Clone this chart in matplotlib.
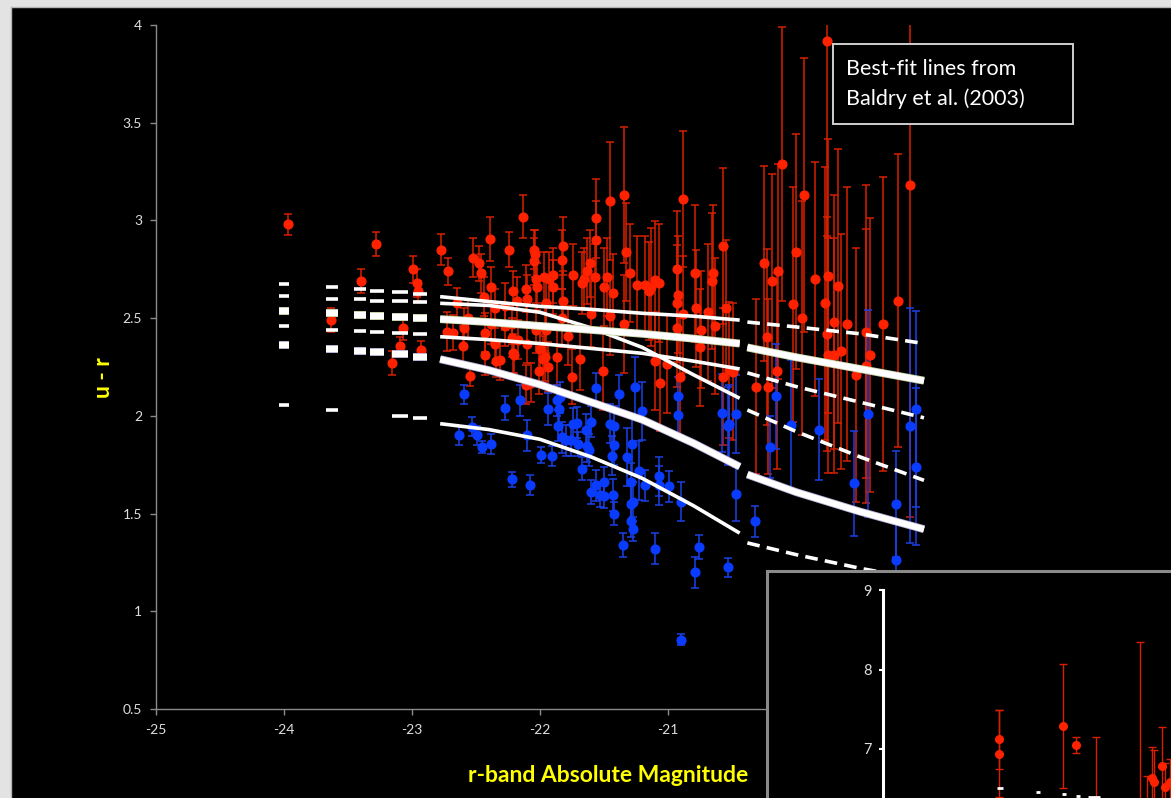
import numpy as np
import matplotlib.pyplot as plt
from matplotlib import patheffects as pe
from matplotlib.patches import Rectangle

# ---------------------------------------------------------------- data
# red (early-type) galaxies: r-band absolute magnitude, u-r colour, 1-sigma error
red_mag = [-23.97, -23.63, -23.40, -23.28, -23.16, -23.09, -23.07, -22.99, -22.96, -22.95,
           -22.93, -22.77, -22.72, -22.73, -22.68, -22.65, -22.60, -22.59, -22.56, -22.55,
           -22.52, -22.48, -22.46, -22.44, -22.43, -22.43, -22.39, -22.38, -22.35, -22.34,
           -22.31, -22.38, -22.35, -22.27, -22.27, -22.24, -22.22, -22.22, -22.21, -22.21,
           -22.20, -22.18, -22.17, -22.13, -22.11, -22.11, -22.10, -22.10, -22.07, -22.05,
           -22.04, -22.05, -22.03, -22.02, -22.03, -22.00, -22.01, -21.97, -21.96, -21.96,
           -21.95, -21.95, -21.93, -21.90, -21.90, -21.98, -21.94, -21.87, -21.82, -21.83,
           -21.82, -21.83, -21.78, -21.75, -21.74, -21.67, -21.66, -21.69, -21.63, -21.61,
           -21.60, -21.57, -21.56, -21.56, -21.51, -21.50, -21.48, -21.45, -21.45, -21.43,
           -21.34, -21.34, -21.33, -21.30, -21.24, -21.18, -21.15, -21.10, -21.07, -21.10,
           -21.06, -21.01, -21.13, -20.93, -20.92, -20.93, -20.93, -20.91, -20.88, -20.88,
           -20.79, -20.78, -20.74, -20.75, -20.69, -20.65, -20.66, -20.63, -20.57, -20.55,
           -20.57, -20.52, -20.49,
           -20.25, -20.23, -20.31, -20.22, -20.19, -20.14, -20.15, -20.11, -20.02, -20.00,
           -19.94, -19.95, -19.85, -19.77, -19.76, -19.76, -19.75, -19.75, -19.70, -19.70,
           -19.67, -19.65, -19.60, -19.53, -19.45, -19.42, -19.45, -19.32, -19.20, -19.11]
red_col = [2.98, 2.49, 2.69, 2.88, 2.27, 2.355, 2.45, 2.75, 2.68, 2.64,
           2.335, 2.85, 2.74, 2.43, 2.425, 2.575, 2.36, 2.45, 2.50, 2.205,
           2.81, 2.78, 2.73, 2.61, 2.425, 2.31, 2.905, 2.66, 2.55, 2.28,
           2.285, 2.47, 2.37, 2.46, 2.56, 2.85, 2.40, 2.47, 2.64, 2.32,
           2.31, 2.59, 2.39, 3.02, 2.65, 2.16, 2.37, 2.60, 2.17, 2.85,
           2.83, 2.79, 2.70, 2.66, 2.44, 2.34, 2.23, 2.71, 2.30, 2.45,
           2.58, 2.44, 2.70, 2.72, 2.66, 2.29, 2.25, 2.30, 2.87, 2.80,
           2.59, 2.50, 2.41, 2.20, 2.72, 2.68, 2.70, 2.29, 2.74, 2.78,
           2.52, 2.71, 3.01, 2.90, 2.23, 2.66, 2.71, 3.10, 2.51, 2.63,
           3.13, 2.47, 2.84, 2.73, 2.67, 2.67, 2.64, 2.695, 2.68, 2.28,
           2.17, 2.265, 2.66, 2.75, 2.62, 2.575, 2.45, 2.20, 3.11, 2.52,
           2.73, 2.55, 2.44, 2.35, 2.53, 2.73, 2.69, 2.46, 2.87, 2.55,
           2.20, 2.235, 2.225,
           2.78, 2.405, 2.15, 2.15, 2.69, 2.74, 2.23, 3.29, 2.57, 2.84,
           3.13, 2.50, 2.70, 2.575, 2.42, 3.92, 2.715, 2.31, 2.48, 2.31,
           2.665, 2.33, 2.47, 2.21, 2.43, 2.31, 2.255, 2.47, 2.59, 3.18]
red_err = [0.055, 0.06, 0.06, 0.06, 0.06, 0.05, 0.06, 0.07, 0.07, 0.05,
           0.05, 0.08, 0.07, 0.10, 0.09, 0.08, 0.10, 0.10, 0.10, 0.05,
           0.10, 0.09, 0.10, 0.10, 0.10, 0.10, 0.115, 0.10, 0.10, 0.08,
           0.10, 0.10, 0.10, 0.10, 0.12, 0.09, 0.10, 0.10, 0.10, 0.10,
           0.09, 0.12, 0.10, 0.11, 0.12, 0.10, 0.10, 0.12, 0.10, 0.10,
           0.12, 0.12, 0.12, 0.12, 0.12, 0.12, 0.12, 0.13, 0.12, 0.12,
           0.13, 0.12, 0.14, 0.14, 0.14, 0.12, 0.13, 0.14, 0.15, 0.15,
           0.15, 0.15, 0.15, 0.14, 0.16, 0.16, 0.16, 0.16, 0.17, 0.17,
           0.17, 0.17, 0.20, 0.20, 0.20, 0.20, 0.20, 0.30, 0.20, 0.20,
           0.35, 0.25, 0.25, 0.25, 0.25, 0.25, 0.25, 0.30, 0.30, 0.25,
           0.25, 0.25, 0.30, 0.30, 0.30, 0.30, 0.30, 0.30, 0.35, 0.30,
           0.35, 0.30, 0.30, 0.30, 0.35, 0.35, 0.35, 0.35, 0.40, 0.35,
           0.35, 0.35, 0.35,
           0.50, 0.45, 0.45, 0.45, 0.55, 0.55, 0.50, 0.70, 0.60, 0.60,
           0.70, 0.60, 0.60, 0.70, 0.60, 1.00, 0.70, 0.60, 0.65, 0.60,
           0.70, 0.60, 0.70, 0.65, 0.75, 0.70, 0.70, 0.75, 0.75, 1.70]

# blue (late-type) galaxies
blue_mag = [-22.59, -22.63, -22.53, -22.49, -22.45, -22.38, -22.27, -22.16, -22.22, -22.08,
            -22.10, -21.99, -21.91, -21.94, -21.87, -21.84, -21.85, -21.86, -21.83, -21.80,
            -21.76, -21.74, -21.71, -21.70, -21.64, -21.60, -21.63, -21.62, -21.67, -21.60,
            -21.56, -21.50, -21.53, -21.50, -21.56, -21.45, -21.42, -21.42, -21.44, -21.43,
            -21.42, -21.38, -21.35, -21.32, -21.28, -21.29, -21.29, -21.27, -21.29, -21.27,
            -21.26, -21.23, -21.20, -21.18, -21.10, -21.07, -21.07, -20.99, -20.92, -20.92,
            -20.90, -20.90, -20.79, -20.76, -20.58, -20.53, -20.52, -20.47, -20.47, -20.53,
            -20.32, -20.16, -20.20, -20.04, -19.82, -19.55, -19.44, -19.22, -19.22, -19.11,
            -19.06, -19.06]
blue_col = [2.11, 1.90, 1.945, 1.90, 1.84, 1.855, 2.04, 2.08, 1.675, 1.645,
            1.90, 1.80, 1.795, 2.035, 2.08, 2.095, 2.035, 1.95, 1.89, 1.875,
            1.875, 1.96, 1.965, 1.855, 1.93, 1.97, 1.845, 1.825, 1.73, 1.61,
            1.645, 1.66, 1.595, 1.59, 2.14, 1.96, 1.95, 1.85, 1.795, 1.595,
            1.50, 2.11, 1.34, 1.79, 1.855, 1.66, 1.55, 1.56, 1.46, 1.42,
            2.15, 1.72, 2.025, 1.645, 1.32, 1.69, 1.645, 1.64, 2.10, 2.005,
            1.56, 0.855, 1.20, 1.33, 2.015, 1.95, 1.96, 2.01, 1.60, 1.225,
            1.46, 2.10, 1.84, 1.955, 1.93, 1.655, 2.01, 1.55, 1.26, 1.95,
            2.035, 1.74]
blue_err = [0.05, 0.05, 0.05, 0.05, 0.03, 0.05, 0.06, 0.08, 0.04, 0.05,
            0.08, 0.04, 0.05, 0.08, 0.08, 0.08, 0.08, 0.08, 0.08, 0.08,
            0.08, 0.08, 0.08, 0.06, 0.08, 0.08, 0.08, 0.08, 0.06, 0.06,
            0.08, 0.08, 0.06, 0.06, 0.08, 0.10, 0.10, 0.10, 0.10, 0.08,
            0.06, 0.10, 0.06, 0.15, 0.15, 0.10, 0.10, 0.10, 0.08, 0.06,
            0.15, 0.15, 0.15, 0.08, 0.08, 0.10, 0.10, 0.08, 0.10, 0.10,
            0.10, 0.03, 0.08, 0.06, 0.20, 0.20, 0.20, 0.20, 0.14, 0.05,
            0.08, 0.27, 0.16, 0.33, 0.26, 0.27, 0.53, 0.27, 0.20, 0.60,
            0.50, 0.40]

# Baldry et al. (2003) colour-magnitude fits, sampled along magnitude.
# NaN entries separate the plotted pieces.
fit_mag_bright = [-24.04, -23.96, np.nan, -23.67, -23.58, np.nan, -23.45, -23.36, np.nan,
                  -23.33, -23.22, np.nan, -23.16, -23.03, np.nan, -22.99, -22.88]
fit_mag_mid = [-22.78, -22.4, -22.0, -21.6, -21.2, -20.8, -20.44]
fit_mag_faint = [-20.38, -20.0, -19.5, -19.0]

fit_bright = {
    'red_hi':   [2.673, 2.673, np.nan, 2.66, 2.66, np.nan, 2.647, 2.647, np.nan, 2.64, 2.64, np.nan, 2.634, 2.634, np.nan, 2.623, 2.623],
    'blue_hi':  [2.613, 2.613, np.nan, 2.60, 2.60, np.nan, 2.596, 2.596, np.nan, 2.59, 2.59, np.nan, 2.588, 2.588, np.nan, 2.583, 2.583],
    'red_mean': [2.536, 2.536, np.nan, 2.525, 2.525, np.nan, 2.516, 2.516, np.nan, 2.51, 2.51, np.nan, 2.506, 2.506, np.nan, 2.499, 2.499],
    'red_lo':   [2.46, 2.46, np.nan, 2.44, 2.44, np.nan, 2.434, 2.434, np.nan, 2.43, 2.43, np.nan, 2.424, 2.424, np.nan, 2.417, 2.417],
    'blue_mean': [2.362, 2.362, np.nan, 2.344, 2.344, np.nan, 2.332, 2.332, np.nan, 2.325, 2.325, np.nan, 2.315, 2.315, np.nan, 2.30, 2.30],
    'blue_lo':  [2.055, 2.055, np.nan, 2.03, 2.03, np.nan, np.nan, np.nan, np.nan, np.nan, np.nan, np.nan, 2.0, 2.0, np.nan, 1.99, 1.99],
}
fit_mid = {
    'red_hi':    [2.61, 2.585, 2.56, 2.545, 2.525, 2.51, 2.49],
    'blue_hi':   [2.576, 2.565, 2.53, 2.45, 2.35, 2.21, 2.09],
    'red_mean':  [2.495, 2.48, 2.46, 2.44, 2.42, 2.395, 2.37],
    'red_lo':    [2.405, 2.39, 2.37, 2.345, 2.32, 2.28, 2.24],
    'blue_mean': [2.29, 2.234, 2.16, 2.07, 1.98, 1.86, 1.74],
    'blue_lo':   [1.96, 1.93, 1.88, 1.79, 1.68, 1.54, 1.40],
}
fit_faint = {
    'red_hi':    [2.48, 2.455, 2.42, 2.37],
    'blue_hi':   [2.03, 1.92, 1.79, 1.67],
    'red_mean':  [2.35, 2.30, 2.24, 2.18],
    'red_lo':    [2.22, 2.15, 2.07, 1.99],
    'blue_mean': [1.70, 1.61, 1.51, 1.42],
    'blue_lo':   [1.35, 1.29, 1.22, 1.16],
}

# wide-range panel (u-r up to 9)
inset_mag = [-23.43, -23.43, -22.56, -22.39, -22.11, -21.52, -21.43, -21.36, -21.33, -21.22, -21.18, -21.11]
inset_col = [7.12, 6.94, 7.29, 7.05, 6.35, 6.30, 6.30, 6.63, 6.59, 6.78, 6.52, 6.58]
inset_err = [0.37, 0.55, 0.78, 0.10, 0.80, 2.05, 0.36, 0.40, 0.40, 0.50, 0.30, 0.30]
inset_fit_mag = [-23.46, -23.38, np.nan, -22.93, -22.87, np.nan, -22.58, -22.52, np.nan,
                 -22.39, -22.33, np.nan, -22.22, -22.06]
inset_fit_col = [6.51, 6.51, np.nan, 6.46, 6.46, np.nan, 6.43, 6.43, np.nan,
                 6.41, 6.41, np.nan, 6.40, 6.40]

y_ticks = [0.5, 1, 1.5, 2, 2.5, 3, 3.5, 4]
y_tick_labels = ['0.5', '1', '1.5', '2', '2.5', '3', '3.5', '4']
x_ticks = [-25, -24, -23, -22, -21, -20, -19, -18]
x_tick_labels = ['-25', '-24', '-23', '-22', '-21', '-20', '-19', '-18']

# ---------------------------------------------------------------- figure
W, H = 1171, 798
fig = plt.figure(figsize=(W / 100, H / 100), dpi=100, facecolor='#e3e3e3')
plt.rcParams['font.family'] = ['Lato', 'DejaVu Sans']


def px_box(left, top, right, bottom):
    return [left / W, 1 - bottom / H, (right - left) / W, (bottom - top) / H]


slide = fig.add_axes(px_box(11, 7, W + 20, H + 20))
slide.set_facecolor('black')
slide.set_xticks([])
slide.set_yticks([])
for s in slide.spines.values():
    s.set_color('#b5b5b5')
    s.set_linewidth(1.0)

TICK_GREY = '#8a8a8a'
LABEL = '#dedede'
RED = '#ff2200'
RED_BAR = '#d82000'
BLUE = '#0a3cff'
BLUE_BAR = '#1a40e6'

ax = fig.add_axes(px_box(156, 25, 1052, 709))
ax.set_facecolor('none')
ax.set_xlim(-25, -18)
ax.set_ylim(0.5, 4)
for side in ('top', 'right'):
    ax.spines[side].set_visible(False)
for side in ('left', 'bottom'):
    ax.spines[side].set_color(TICK_GREY)
    ax.spines[side].set_linewidth(1.0)
ax.set_yticks(y_ticks)
ax.set_yticklabels(y_tick_labels)
ax.set_xticks(x_ticks)
ax.set_xticklabels(x_tick_labels)
ax.tick_params(colors=TICK_GREY, labelcolor=LABEL, labelsize=10, length=4, width=1.0, direction='out')
ax.tick_params(axis='y', pad=6)
ax.tick_params(axis='x', pad=7)

ax.errorbar(red_mag, red_col, yerr=red_err, fmt='o', ms=6.3, color=RED, mec=RED,
            ecolor=RED_BAR, elinewidth=1.1, capsize=3.2, capthick=1.1, zorder=3)
ax.errorbar(blue_mag, blue_col, yerr=blue_err, fmt='o', ms=6.3, color=BLUE, mec=BLUE,
            ecolor=BLUE_BAR, elinewidth=1.1, capsize=3.2, capthick=1.1, zorder=3)

tints = {'red_mean': '#c9d6a6', 'blue_mean': '#b6acd6'}
for key in fit_mid:
    thick = key in tints
    lw = 4.5 if thick else 2.6
    effects = [pe.Stroke(linewidth=lw + 1.2, foreground=tints[key]), pe.Normal()] if thick else None
    kw = dict(color='white', lw=lw, zorder=4, path_effects=effects)
    ax.plot(fit_mag_bright, fit_bright[key], solid_capstyle='butt', **kw)
    ax.plot(fit_mag_mid, fit_mid[key], solid_capstyle='butt', **kw)
    if thick:
        ax.plot(fit_mag_faint, fit_faint[key], solid_capstyle='butt', **kw)
    else:
        ax.plot(fit_mag_faint, fit_faint[key], dashes=(3.5, 2.0), dash_capstyle='butt', **kw)

# annotation box
fig.add_artist(Rectangle((833 / W, 1 - 124 / H), 240 / W, 80 / H, transform=fig.transFigure,
                         facecolor='black', edgecolor='#cfcfcf', lw=1.4, zorder=5))
fig.text(846 / W, 1 - 69 / H, 'Best-fit lines from', color='white', fontsize=15.5,
         va='center', ha='left', zorder=6)
fig.text(846 / W, 1 - 99 / H, 'Baldry et al. (2003)', color='white', fontsize=15.5,
         va='center', ha='left', zorder=6)

fig.text(608 / W, 1 - 776 / H, 'r-band Absolute Magnitude', color='#ffff00', fontsize=16.5,
         fontweight='bold', ha='center', va='center')
fig.text(103 / W, 1 - 378 / H, 'u - r', color='#ffff00', fontsize=16.5, fontweight='bold',
         rotation=90, ha='center', va='center')

# wide-range panel in the lower right
frame = fig.add_axes(px_box(767, 571, W + 30, H + 30))
frame.set_facecolor('black')
frame.set_xticks([])
frame.set_yticks([])
frame.set_zorder(5)
for s in frame.spines.values():
    s.set_color('#8a8a8a')
    s.set_linewidth(2.2)

inset = fig.add_axes(px_box(883, 590, 1400, 908))
inset.set_zorder(6)
inset.set_facecolor('none')
inset.set_xlim(-25, -18)
inset.set_ylim(5, 9)
for side in ('top', 'right', 'bottom'):
    inset.spines[side].set_visible(False)
inset.spines['left'].set_color('white')
inset.spines['left'].set_linewidth(2.2)
inset.set_xticks([])
inset.set_yticks([7, 8, 9])
inset.set_yticklabels(['7', '8', '9'])
inset.tick_params(axis='y', colors='white', labelcolor=LABEL, labelsize=10.5, length=3, width=1.5, pad=5)
inset.errorbar(inset_mag, inset_col, yerr=inset_err, fmt='o', ms=5.5, color=RED, mec=RED,
               ecolor=RED_BAR, elinewidth=1.0, capsize=3, capthick=1.0, zorder=3)
inset.plot(inset_fit_mag, inset_fit_col, color='white', lw=2.0, solid_capstyle='butt', zorder=4)

fig.savefig('out.png', dpi=100, facecolor=fig.get_facecolor())
